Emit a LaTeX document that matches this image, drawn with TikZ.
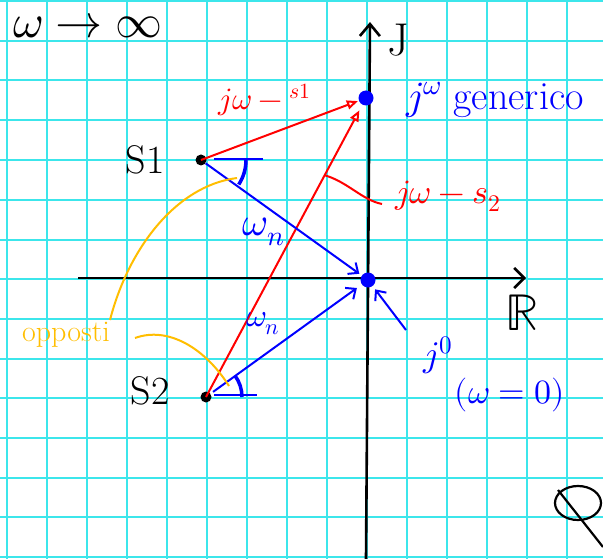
\documentclass[tikz,border=0pt]{standalone}
\usepackage{unicode-math}
\setmathfont{Latin Modern Math}
\usetikzlibrary{arrows.meta}
\definecolor{gridc}{RGB}{60,230,235}
\definecolor{penred}{RGB}{255,0,0}
\definecolor{penblue}{RGB}{0,0,255}
\definecolor{penyel}{RGB}{255,190,0}
\newcommand{\fs}[1]{\fontsize{#1}{#1}\selectfont}
\begin{document}
\begin{tikzpicture}[x=1pt,y=-1pt,
  gridline/.style={gridc,line width=2pt},
  axisline/.style={black,line width=2.6pt},
  redvec/.style={penred,line width=2pt,-{Triangle[open,length=11pt,width=9pt,line width=2pt]}},
  bluevec/.style={penblue,line width=2pt,-{Straight Barb[length=8pt,width=14pt,line width=2pt]}},
  yelline/.style={penyel,line width=2pt},
  anglemark/.style={penblue,line width=3.5pt},
  blackdot/.style={circle,fill=black,inner sep=0pt,minimum size=11pt},
  bluedot/.style={circle,fill=penblue,inner sep=0pt,minimum size=15pt},
  lbl/.style={inner sep=0pt}]
\useasboundingbox (0,0) rectangle (603,559);
\fill[white] (0,0) rectangle (603,559);
% grid
\foreach \k in {0,...,14} {\draw[gridline] (7+40*\k,0) -- (7+40*\k,559);}
\foreach \yy in {1,41,80,120,160,200,240,279,319,359,398,438,478,517,557} {\draw[gridline] (0,\yy) -- (603,\yy);}
% axes
\coordinate (xl) at (78,278);
\coordinate (xr) at (526,278);
\coordinate (yb) at (366,559);
\coordinate (yt) at (370,22);
\draw[axisline,-{Straight Barb[length=10pt,width=20pt,line width=2.6pt]}] (xl) -- (xr);
\draw[axisline,-{Straight Barb[length=12pt,width=20pt,line width=2.6pt]}] (yb) -- (yt);
% points
\node[blackdot] (s1) at (201,160) {};
\node[blackdot] (s2) at (206,397) {};
\node[bluedot] (jw) at (366,98) {};
\node[bluedot] (o) at (368,280) {};
% vectors
\draw[redvec,shorten >=1pt] (s1.center) -- (jw);
\draw[redvec,shorten >=14pt] (s2.center) -- (jw.center);
\draw[bluevec,shorten >=3pt] (s1) -- (o);
\draw[bluevec,shorten >=6pt,shorten <=3pt] (s2) -- (o);
\coordinate (jotail) at (406,330);
\draw[bluevec,shorten >=4pt] (jotail) -- (o);
% angle marks
\draw[penblue,line width=2.5pt] (214,159) -- (263,159);
\draw[anglemark] (s1.center) ++(0:45) arc[start angle=0,end angle=33,radius=45];
\draw[penblue,line width=2.5pt] (214,395) -- (257,395);
\draw[anglemark] (s2.center) ++(0:36) arc[start angle=0,end angle=-36,radius=36];
% yellow leaders
\coordinate (ya) at (110,320);
\coordinate (yb1) at (237,178);
\draw[yelline] (ya) .. controls (128,250) and (175,186) .. (yb1);
\coordinate (yc) at (135,338);
\coordinate (yd) at (229,386);
\draw[yelline] (yc) .. controls (168,326) and (205,348) .. (yd);
% red leader
\coordinate (ra) at (324,175);
\coordinate (rb) at (382,204);
\draw[penred,line width=2pt] (ra) .. controls (348,182) and (362,200) .. (rb);
% Q-like scribble
\draw[black,line width=2.2pt] (578,503) ellipse[x radius=23,y radius=17];
\draw[black,line width=2.2pt] (558,490) -- (603,547);
% labels
\node[lbl] (winf) at (88,26) {\fs{47}$\omega\to\infty$};
\node[lbl] (ls1) at (145,160) {\fs{40}S1};
\node[lbl] (ls2) at (150,391) {\fs{40}S2};
\node[lbl,penred] (ljs1) at (265,100) {\fs{31}$j\omega - {}^{s1}$};
\node[lbl,penblue] (ljw) at (495,100) {\fs{40}$j^{\omega}$ generico};
\node[lbl,penred] (ljs2) at (448,196) {\fs{34}$j\omega - s_2$};
\node[lbl,penblue] (lwn1) at (264,232) {\fs{40}$\omega_n$};
\node[lbl,penblue] (lwn2) at (263,324) {\fs{32}$\omega_n$};
\node[lbl,penyel] (lopp) at (66,335) {\fs{30}opposti};
\node[lbl] (lR) at (522,313) {\fs{52}$\mathbb{R}$};
\node[lbl] (lJ) at (398,40) {\fs{46}J};
\node[lbl,penblue] (lj0) at (438,355) {\fs{36}$j^{0}$};
\node[lbl,penblue] (lw0) at (510,395) {\fs{34}$(\omega=0)$};
\end{tikzpicture}
\end{document}
